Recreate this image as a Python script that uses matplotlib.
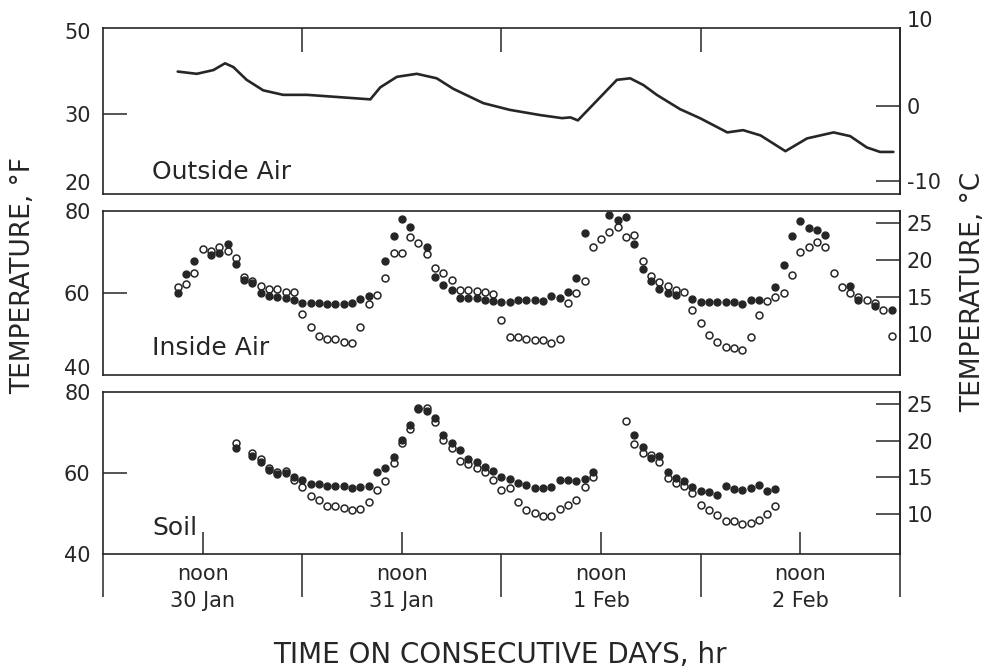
import matplotlib
matplotlib.use("Agg")
import matplotlib.pyplot as plt

# hours counted from midnight of 30 Jan
out_hr = [9.0, 11.3, 13.3, 14.7, 15.7, 17.3, 19.3, 21.7, 24.6, 32.2, 33.4, 35.4,
          37.8, 40.2, 42.2, 45.8, 49.0, 52.7, 55.3, 56.3, 57.2, 59.9, 61.9, 63.5,
          65.1, 66.7, 69.5, 71.9, 75.2, 77.1, 79.2, 82.2, 84.8, 88.0, 90.0, 92.0,
          93.6, 95.2]
out_c = [4.6, 4.3, 4.8, 5.7, 5.2, 3.5, 2.1, 1.5, 1.5, 0.9, 2.5, 3.9,
         4.3, 3.7, 2.3, 0.4, -0.5, -1.2, -1.6, -1.5, -1.9, 1.2, 3.5, 3.7,
         2.8, 1.5, -0.4, -1.6, -3.5, -3.2, -3.9, -6.0, -4.3, -3.5, -4.0, -5.5,
         -6.1, -6.1]

# inside air, solid dots
in_a_hr = [9, 10, 11, 13, 14, 15, 16, 17, 18, 19, 20, 21, 22, 23, 24, 25, 26, 27,
           28, 29, 30, 31, 32, 34, 35, 36, 37, 39, 40, 41, 42, 43, 44, 45, 46, 47,
           48, 49, 50, 51, 52, 53, 54, 55, 56, 57, 58, 61, 62, 63, 64, 65, 66, 67,
           68, 69, 71, 72, 73, 74, 75, 76, 77, 78, 79, 81, 82, 83, 84, 85, 86, 87,
           90, 91, 93, 95]
in_a_f = [60.1, 64.6, 67.9, 69.3, 69.8, 72.0, 67.1, 63.2, 62.4, 60.1, 59.3, 59.1,
          58.7, 58.3, 57.6, 57.6, 57.5, 57.3, 57.2, 57.2, 57.6, 58.5, 59.3, 67.9,
          73.9, 78.0, 76.2, 71.3, 64.0, 62.0, 60.7, 58.7, 58.9, 58.7, 58.3, 58.1,
          57.9, 57.9, 58.3, 58.3, 58.3, 58.1, 59.3, 58.9, 60.2, 63.7, 74.6, 79.0,
          77.7, 78.5, 72.0, 65.9, 62.9, 60.9, 59.9, 59.6, 58.5, 57.9, 57.9, 57.9,
          57.9, 57.9, 57.3, 58.3, 58.3, 61.4, 66.8, 74.0, 77.6, 75.8, 75.4, 74.1,
          61.7, 58.3, 56.8, 55.9]

# inside air, open dots
in_b_hr = list(range(9, 96))
in_b_f = [61.4, 62.2, 65.0, 70.7, 70.3, 71.3, 70.3, 68.5, 63.8, 62.9, 61.7, 60.9,
          60.9, 60.3, 60.3, 54.9, 51.6, 49.6, 48.7, 48.7, 48.1, 47.9, 51.8, 57.3,
          59.5, 63.7, 69.8, 69.8, 73.7, 72.1, 69.5, 66.0, 65.0, 63.2, 60.7, 60.7,
          60.6, 60.3, 59.7, 53.4, 49.2, 49.3, 48.7, 48.6, 48.5, 47.7, 48.9, 57.5,
          60.1, 62.9, 71.1, 73.1, 75.0, 76.0, 73.6, 74.1, 67.8, 64.2, 62.8, 61.8,
          60.7, 60.2, 55.9, 52.6, 49.8, 48.1, 46.9, 46.5, 46.1, 49.3, 54.6, 58.1,
          59.1, 59.9, 64.4, 69.9, 71.1, 72.5, 71.3, 65.0, 61.5, 59.9, 59.1, 58.3,
          57.6, 55.9, 49.5]

# soil, solid dots
soil_a_hr = [16] + list(range(18, 60)) + list(range(64, 82))
soil_a_f = [66.1, 64.2, 62.8, 60.7, 59.7, 59.9, 59.1, 58.3, 57.2, 57.2, 56.8, 56.8,
            56.8, 56.4, 56.5, 56.8, 60.3, 61.2, 64.0, 68.1, 71.9, 75.7, 75.3, 73.7,
            69.4, 67.3, 65.7, 63.5, 62.8, 61.6, 60.5, 59.1, 58.5, 57.6, 57.0, 56.2,
            56.2, 56.5, 58.3, 58.3, 58.1, 58.5, 60.3,
            69.5, 66.3, 63.6, 64.2, 60.2, 58.7, 58.0, 56.6, 55.6, 55.4, 54.6, 56.9,
            56.0, 55.8, 56.2, 57.0, 55.6, 56.0]

# soil, open dots
soil_b_hr = [16] + list(range(18, 60)) + list(range(63, 82))
soil_b_f = [67.3, 64.9, 63.4, 61.2, 60.3, 60.6, 58.3, 56.5, 54.2, 53.3, 51.9, 51.9,
            51.4, 50.9, 51.1, 52.9, 55.8, 58.1, 62.4, 67.3, 70.8, 76.0, 76.0, 72.7,
            68.1, 66.1, 63.0, 62.1, 61.3, 60.2, 58.3, 55.8, 56.2, 52.9, 50.9, 50.2,
            49.4, 49.4, 51.0, 52.1, 53.3, 56.6, 59.1,
            72.9, 67.2, 64.9, 64.4, 62.6, 58.8, 57.6, 56.9, 55.0, 52.1, 50.9, 49.6,
            48.1, 48.1, 47.3, 47.6, 48.4, 49.8, 51.9]

noon_hr = [12, 36, 60, 84]
noon_labels = ["noon\n30 Jan", "noon\n31 Jan", "noon\n1 Feb", "noon\n2 Feb"]
midnight_hr = [0, 24, 48, 72, 96]

ink = "#262626"
fs = 15


def f2c(f):
    return (f - 32) * 5 / 9


def c2f(c):
    return c * 9 / 5 + 32


fig = plt.figure(figsize=(9.89, 6.71), dpi=100)


def panel(top_px, bot_px):
    ax = fig.add_axes([103 / 989, 1 - bot_px / 671, 797 / 989, (bot_px - top_px) / 671])
    ax.set_xlim(0, 96)
    for s in ax.spines.values():
        s.set_color(ink)
        s.set_linewidth(1.2)
    ax.tick_params(axis="both", which="both", direction="in", width=1.1,
                   color=ink, labelcolor=ink, labelsize=fs, pad=5)
    ax.tick_params(axis="y", which="both", pad=9)
    ax.tick_params(axis="y", which="major", length=17)
    ax.tick_params(axis="y", which="minor", length=0)
    return ax


def right_axis(ax, fwd, inv, major, minor):
    sec = ax.secondary_yaxis("right", functions=(fwd, inv))
    sec.spines["right"].set_color(ink)
    sec.spines["right"].set_linewidth(1.2)
    sec.set_yticks(major, labels=[str(v) for v in major])
    sec.set_yticks(minor, labels=[str(v) for v in minor], minor=True)
    sec.tick_params(axis="y", which="both", direction="in", width=1.1,
                    color=ink, labelcolor=ink, labelsize=fs, pad=5)
    sec.tick_params(axis="y", which="major", length=17)
    sec.tick_params(axis="y", which="minor", length=0)
    return sec


# outside air, plotted in deg C
ax1 = panel(28, 194)
ax1.plot(out_hr, out_c, color=ink, lw=1.9, solid_capstyle="round")
ax1.set_ylim(-11.7, 10.4)
ax1.set_yticks([f2c(30)], labels=["30"])
ax1.set_yticks([10, -11.7], labels=["50", "20"], minor=True)
ax1.get_yticklabels(minor=True)[1].set_va("bottom")
ax1.set_xticks(midnight_hr[1:-1])
ax1.xaxis.set_ticks_position("top")
ax1.tick_params(axis="x", length=17, labeltop=False, labelbottom=False)
sec1 = right_axis(ax1, lambda c: c, lambda c: c, [0, -10], [10])
sec1.get_yticklabels(minor=True)[0].set_va("bottom")
ax1.text(5.9, -8.8, "Outside Air", fontsize=18, color=ink, va="center")

# inside air
ax2 = panel(211, 375)
ax2.plot(in_a_hr, in_a_f, "o", ms=5, color=ink, mec=ink)
ax2.plot(in_b_hr, in_b_f, "o", ms=5, mfc="none", mec=ink, mew=1.1)
ax2.set_ylim(40, 80)
ax2.set_yticks([60], labels=["60"])
ax2.set_yticks([80, 40], labels=["80", "40"], minor=True)
ax2.get_yticklabels(minor=True)[1].set_va("baseline")
ax2.set_xticks([])
right_axis(ax2, f2c, c2f, [15, 20, 25], [10])
ax2.text(5.9, 46.6, "Inside Air", fontsize=18, color=ink, va="center")

# soil
ax3 = panel(392, 554)
ax3.plot(soil_a_hr, soil_a_f, "o", ms=5, color=ink, mec=ink)
ax3.plot(soil_b_hr, soil_b_f, "o", ms=5, mfc="none", mec=ink, mew=1.1)
ax3.set_ylim(40, 80)
ax3.set_yticks([60], labels=["60"])
ax3.set_yticks([80, 40], labels=["80", "40"], minor=True)
ax3.set_xticks(noon_hr, labels=noon_labels)
ax3.set_xticks(midnight_hr, minor=True)
ax3.tick_params(axis="x", which="major", length=16, pad=7)
ax3.tick_params(axis="x", which="minor", direction="out", length=31)
for lab in ax3.get_xticklabels():
    lab.set_linespacing(1.45)
right_axis(ax3, f2c, c2f, [10, 15, 20, 25], [])
ax3.text(5.9, 46.4, "Soil", fontsize=18, color=ink, va="center")

fig.text(23 / 989, 1 - 275 / 671, "TEMPERATURE, °F", rotation=90, fontsize=19,
         color=ink, ha="center", va="center")
fig.text(973 / 989, 1 - 292 / 671, "TEMPERATURE, °C", rotation=90, fontsize=19,
         color=ink, ha="center", va="center")
fig.text(500 / 989, 1 - 655 / 671, "TIME ON CONSECUTIVE DAYS, hr", fontsize=20,
         color=ink, ha="center", va="center")

fig.savefig("out.png", dpi=100, facecolor="white")
